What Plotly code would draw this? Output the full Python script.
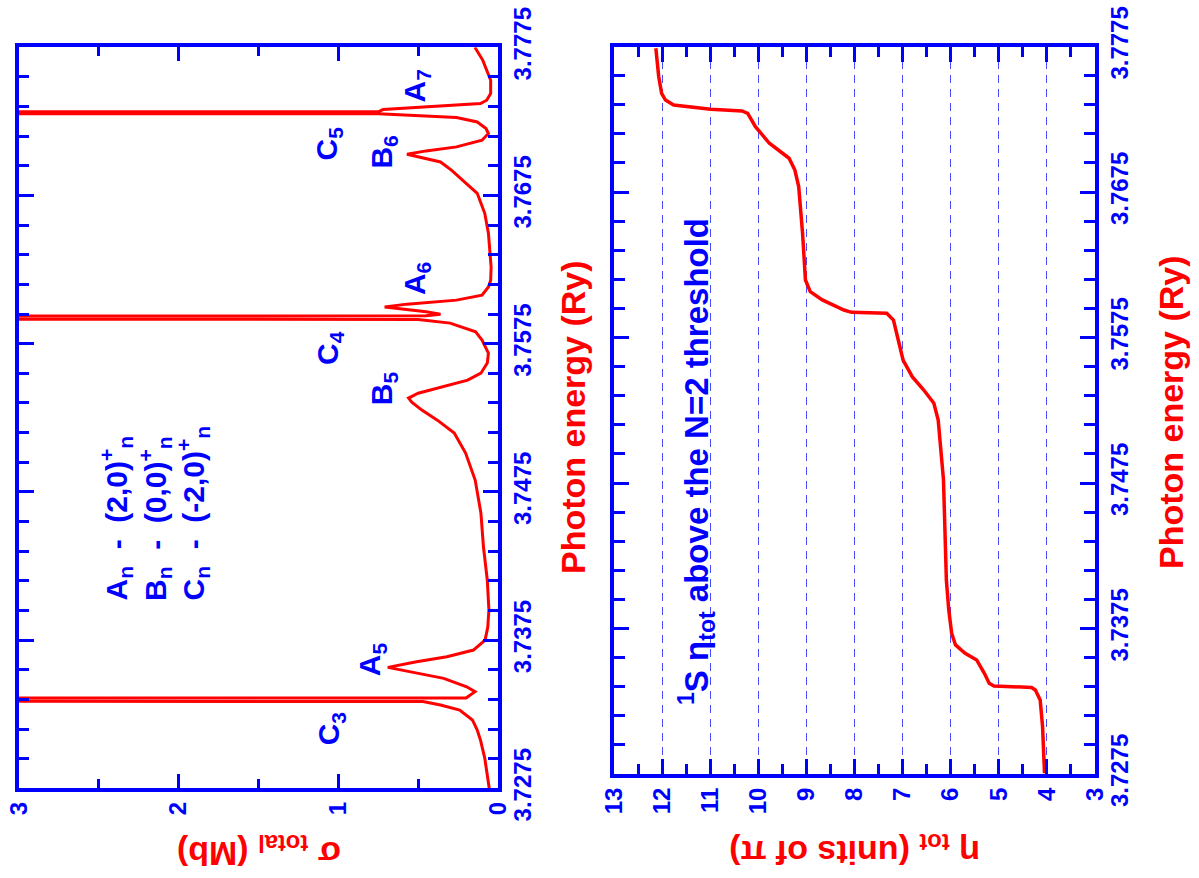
import plotly.graph_objects as go

# ---- panel (a): total photoionization cross section (Mb) vs photon energy (Ry)
energy_sigma = [
    3.72750, 3.72853, 3.72954, 3.73076, 3.73143, 3.73211, 3.73278, 3.73312,
    3.73336, 3.73348, 3.73360, 3.73402, 3.73435, 3.73492, 3.73536, 3.73566,
    3.73604, 3.73638, 3.73683, 3.73750, 3.73838, 3.73953, 3.74155, 3.74378,
    3.74607, 3.74830, 3.75012, 3.75147, 3.75234, 3.75302, 3.75356, 3.75383,
    3.75416, 3.75457, 3.75504, 3.75551, 3.75619, 3.75686, 3.75754, 3.75774,
    3.75830, 3.75889, 3.75914, 3.75926, 3.75938, 3.75949, 3.75965, 3.75983,
    3.75998, 3.76017, 3.76044, 3.76077, 3.76133, 3.76179, 3.76266, 3.76496,
    3.76630, 3.76765, 3.76853, 3.76920, 3.76976, 3.77006, 3.77028, 3.77051,
    3.77078, 3.77123, 3.77168, 3.77202, 3.77246, 3.77276, 3.77288, 3.77302,
    3.77308, 3.77315, 3.77330, 3.77352, 3.77370, 3.77393, 3.77438, 3.77528,
    3.77662, 3.77750,
]
sigma_total = [
    0.055, 0.067, 0.083, 0.110, 0.130, 0.160, 0.240, 0.360,
    0.470, 40.00, 0.200, 0.144, 0.196, 0.340, 0.550, 0.690,
    0.510, 0.320, 0.154, 0.081, 0.064, 0.057, 0.067, 0.091,
    0.107, 0.143, 0.203, 0.274, 0.380, 0.477, 0.540, 0.560,
    0.500, 0.358, 0.190, 0.107, 0.067, 0.060, 0.090, 0.100,
    0.140, 0.300, 0.500, 40.00, 0.450, 0.360, 0.450, 0.610,
    0.710, 0.570, 0.260, 0.100, 0.060, 0.046, 0.043, 0.060,
    0.083, 0.130, 0.220, 0.290, 0.360, 0.490, 0.570, 0.450,
    0.260, 0.100, 0.060, 0.075, 0.130, 0.260, 0.450, 0.750,
    40.00, 0.750, 0.720, 0.410, 0.110, 0.071, 0.046, 0.046,
    0.095, 0.145,
]

# ---- panel (b): eigenphase sum (units of pi) vs photon energy (Ry)
energy_eta = [
    3.72755, 3.73075, 3.73259, 3.73327, 3.73345, 3.73355, 3.73373, 3.73442,
    3.73534, 3.73580, 3.73637, 3.73717, 3.73877, 3.74083, 3.74771, 3.75183,
    3.75298, 3.75389, 3.75481, 3.75595, 3.75733, 3.75870, 3.75916, 3.75923,
    3.75939, 3.75973, 3.76008, 3.76065, 3.76145, 3.76468, 3.76787, 3.76901,
    3.76982, 3.77085, 3.77199, 3.77291, 3.77307, 3.77319, 3.77332, 3.77348,
    3.77382, 3.77428, 3.77542, 3.77738,
]
eta_tot = [
    4.05, 4.09, 4.14, 4.24, 4.32, 5.10, 5.20, 5.30,
    5.46, 5.70, 5.90, 5.98, 6.04, 6.09, 6.15, 6.26,
    6.35, 6.56, 6.80, 6.99, 7.09, 7.19, 7.33, 8.06,
    8.22, 8.43, 8.67, 8.92, 9.02, 9.08, 9.16, 9.24,
    9.36, 9.77, 10.06, 10.22, 10.34, 10.99, 11.40, 11.76,
    11.93, 12.01, 12.07, 12.13,
]

# ---- ticks
energy_ticks = [3.7275, 3.7375, 3.7475, 3.7575, 3.7675, 3.7775]
energy_ticktext = ["3.7275", "3.7375", "3.7475", "3.7575", "3.7675", "3.7775"]
sigma_ticks = [0, 1, 2, 3]
sigma_ticktext = ["0", "1", "2", "3"]
eta_ticks = [3, 4, 5, 6, 7, 8, 9, 10, 11, 12, 13]
eta_ticktext = ["3", "4", "5", "6", "7", "8", "9", "10", "11", "12", "13"]

# ---- resonance labels: (text, sigma, energy)
resonance_labels = [
    ("C<sub>3</sub>", 1.05, 3.7315),
    ("A<sub>5</sub>", 0.79, 3.7362),
    ("B<sub>5</sub>", 0.72, 3.7545),
    ("C<sub>4</sub>", 1.06, 3.7572),
    ("A<sub>6</sub>", 0.51, 3.7619),
    ("B<sub>6</sub>", 0.72, 3.7704),
    ("C<sub>5</sub>", 1.06, 3.7710),
    ("A<sub>7</sub>", 0.51, 3.7749),
]
series_key = [
    "A<sub>n</sub>\u00a0\u00a0-\u00a0\u00a0(2,0)<sup>+</sup><sub>n</sub>",
    "B<sub>n</sub>\u00a0\u00a0-\u00a0\u00a0(0,0)<sup>+</sup><sub>n</sub>",
    "C<sub>n</sub>\u00a0\u00a0-\u00a0\u00a0(-2,0)<sup>+</sup><sub>n</sub>",
]

BLUE = "#0000ff"
RED = "#ff0000"
GRID = "#4a4aff"
FONT = "Liberation Sans, Arial, Helvetica, sans-serif"
W, H = 1199, 878


def px(x):
    return x / W


def py(y):
    return 1 - y / H


def framed_axis(**kw):
    d = dict(
        showline=True, linewidth=4, linecolor=BLUE, mirror="allticks",
        ticks="inside", tickcolor=BLUE, tickwidth=3, showgrid=False,
        zeroline=False, tickangle=-90, automargin=False,
        tickfont=dict(family=FONT, size=24, color=BLUE, weight="bold"),
    )
    d.update(kw)
    return d


fig = go.Figure()
fig.add_trace(go.Scatter(
    x=sigma_total, y=energy_sigma, mode="lines",
    line=dict(color=RED, width=3), xaxis="x", yaxis="y",
    showlegend=False, hoverinfo="skip",
))
fig.add_trace(go.Scatter(
    x=eta_tot, y=energy_eta, mode="lines",
    line=dict(color=RED, width=3.5), xaxis="x2", yaxis="y2",
    showlegend=False, hoverinfo="skip",
))

fig.update_layout(
    width=W, height=H,
    margin=dict(l=0, r=0, t=0, b=0, pad=0, autoexpand=False),
    paper_bgcolor="white", plot_bgcolor="white", showlegend=False,
    xaxis=framed_axis(
        domain=[px(19), px(498)], range=[3, 0], anchor="y", side="bottom",
        tickmode="array", tickvals=sigma_ticks, ticktext=sigma_ticktext,
        ticklen=14,
        minor=dict(tick0=0, dtick=0.5, ticks="inside", ticklen=9,
                   tickcolor=BLUE, tickwidth=3),
    ),
    yaxis=framed_axis(
        domain=[py(788.3), py(47.3)], range=[3.7275, 3.7775], anchor="x",
        side="right", tickmode="array", tickvals=energy_ticks,
        ticktext=energy_ticktext, ticklen=15,
        minor=dict(tick0=3.7275, dtick=0.002, ticks="inside", ticklen=10,
                   tickcolor=BLUE, tickwidth=3),
    ),
    xaxis2=framed_axis(
        domain=[px(614), px(1095)], range=[13, 3], anchor="y2", side="bottom",
        tickmode="array", tickvals=eta_ticks, ticktext=eta_ticktext,
        ticklen=15, showgrid=True, gridcolor=GRID, gridwidth=1.3,
        griddash="8px,6px",
        minor=dict(tick0=3, dtick=0.5, ticks="inside", ticklen=10,
                   tickcolor=BLUE, tickwidth=3),
    ),
    yaxis2=framed_axis(
        domain=[py(774), py(46.5)], range=[3.7275, 3.7775], anchor="x2",
        side="right", tickmode="array", tickvals=energy_ticks,
        ticktext=energy_ticktext, ticklen=15,
        minor=dict(tick0=3.7275, dtick=0.002, ticks="inside", ticklen=11,
                   tickcolor=BLUE, tickwidth=3),
    ),
)

annotations = []


def title(text, x, y, angle, size=34, color=RED):
    annotations.append(dict(
        text=text, x=px(x), y=py(y), xref="paper", yref="paper",
        xanchor="center", yanchor="middle", showarrow=False,
        textangle=angle,
        font=dict(family=FONT, size=size, color=color, weight="bold"),
    ))


title("Photon energy (Ry)", 573, 417, -90)
title("Photon energy (Ry)", 1171, 412, -90)
title("\u03c3 <sub>total</sub> (Mb)", 259, 852, 180)
title("\u03b7 <sub>tot</sub> (units of \u03c0)", 855, 851, 180)
title("<sup>1</sup>S \u03b7<sub>tot</sub> above the N=2 threshold",
      696, 462, -90, size=33, color=BLUE)

for text, s, e in resonance_labels:
    annotations.append(dict(
        text=text, x=s, y=e, xref="x", yref="y", showarrow=False,
        xanchor="center", yanchor="middle", textangle=-90,
        font=dict(family=FONT, size=30, color=BLUE, weight="bold"),
    ))

for i, line in enumerate(series_key):
    annotations.append(dict(
        text=line, x=px(116 + 38.5 * i), y=py(603), xref="paper",
        yref="paper", showarrow=False, xanchor="center", yanchor="bottom",
        textangle=-90,
        font=dict(family=FONT, size=30, color=BLUE, weight="bold"),
    ))

fig.update_layout(annotations=annotations)
fig.write_html("out.html")
